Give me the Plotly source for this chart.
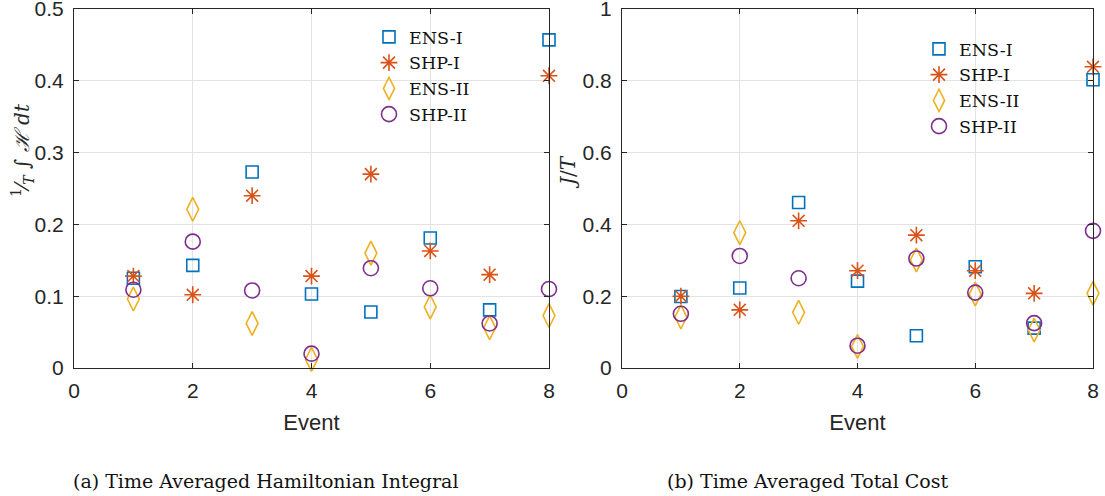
import plotly.graph_objects as go

events = [1, 2, 3, 4, 5, 6, 7, 8]

# (a) Time averaged Hamiltonian integral
ham_ens1 = [0.125, 0.143, 0.273, 0.103, 0.078, 0.181, 0.081, 0.457]
ham_shp1 = [0.128, 0.102, 0.240, 0.128, 0.270, 0.163, 0.130, 0.407]
ham_ens2 = [0.096, 0.221, 0.062, 0.012, 0.160, 0.085, 0.056, 0.073]
ham_shp2 = [0.109, 0.176, 0.108, 0.020, 0.139, 0.111, 0.062, 0.110]

# (b) Time averaged total cost
cost_ens1 = [0.199, 0.223, 0.461, 0.242, 0.090, 0.282, 0.111, 0.803]
cost_shp1 = [0.200, 0.162, 0.410, 0.271, 0.370, 0.271, 0.208, 0.839]
cost_ens2 = [0.142, 0.377, 0.155, 0.060, 0.301, 0.206, 0.106, 0.208]
cost_shp2 = [0.151, 0.312, 0.250, 0.062, 0.305, 0.210, 0.125, 0.382]

series_names = ["ENS-I", "SHP-I", "ENS-II", "SHP-II"]
colors = ["#0072BD", "#D95319", "#EDB120", "#7E2F8E"]
symbols = ["square-open", "asterisk-open", "diamond-tall-open", "circle-open"]
sizes = [12, 14, 17, 15]

x_ticks = [0, 2, 4, 6, 8]
y_ticks_a = [0, 0.1, 0.2, 0.3, 0.4, 0.5]
y_ticks_b = [0, 0.2, 0.4, 0.6, 0.8, 1]
y_labels_a = ["0", "0.1", "0.2", "0.3", "0.4", "0.5"]
y_labels_b = ["0", "0.2", "0.4", "0.6", "0.8", "1"]

fig = go.Figure()

left = [ham_ens1, ham_shp1, ham_ens2, ham_shp2]
right = [cost_ens1, cost_shp1, cost_ens2, cost_shp2]

for i, name in enumerate(series_names):
    fig.add_trace(go.Scatter(
        x=events, y=left[i], mode="markers", name=name,
        marker=dict(symbol=symbols[i], size=sizes[i], color=colors[i],
                    line=dict(width=1.6, color=colors[i])),
        xaxis="x", yaxis="y", legend="legend", cliponaxis=False))
for i, name in enumerate(series_names):
    fig.add_trace(go.Scatter(
        x=events, y=right[i], mode="markers", name=name,
        marker=dict(symbol=symbols[i], size=sizes[i], color=colors[i],
                    line=dict(width=1.6, color=colors[i])),
        xaxis="x2", yaxis="y2", legend="legend2", cliponaxis=False))

W, H = 1105, 496
axis_color = "#262626"
grid_color = "#e3e3e3"
tick_font = dict(family="Liberation Sans", size=21, color=axis_color)

def xa(domain, anchor):
    return dict(domain=domain, anchor=anchor, range=[0, 8], tickvals=x_ticks,
                showgrid=True, gridcolor=grid_color, zeroline=False,
                showline=True, linecolor=axis_color, linewidth=1, mirror="ticks",
                ticks="inside", ticklen=5, tickcolor=axis_color, tickfont=tick_font,
                ticklabelstandoff=4, ticklabeloverflow="allow", automargin=False,
                title=dict(text="Event", font=dict(family="Liberation Sans", size=22, color=axis_color), standoff=13))

def ya(domain, anchor, rng, vals, labels):
    return dict(domain=domain, anchor=anchor, range=rng, tickvals=vals, ticktext=labels,
                showgrid=True, gridcolor=grid_color, zeroline=False,
                showline=True, linecolor=axis_color, linewidth=1, mirror="ticks",
                ticks="inside", ticklen=5, tickcolor=axis_color, tickfont=tick_font,
                ticklabelstandoff=5, ticklabeloverflow="allow", automargin=False)

yd = [(H - 368) / H, (H - 9) / H]
legend_font = dict(family="DejaVu Serif", size=17.5, color="#111111")
fig.update_layout(
    width=W, height=H, autosize=False,
    margin=dict(l=0, r=0, t=0, b=0, autoexpand=False),
    paper_bgcolor="white", plot_bgcolor="white",
    xaxis=xa([74 / W, 549 / W], "y"),
    yaxis=ya(yd, "x", [0, 0.5], y_ticks_a, y_labels_a),
    xaxis2=xa([622 / W, 1093 / W], "y2"),
    yaxis2=ya(yd, "x2", [0, 1], y_ticks_b, y_labels_b),
    legend=dict(x=369 / W, y=1 - 19 / H, xanchor="left", yanchor="top",
                bgcolor="rgba(0,0,0,0)", borderwidth=0, tracegroupgap=0,
                font=legend_font),
    legend2=dict(x=919 / W, y=1 - 31 / H, xanchor="left", yanchor="top",
                 bgcolor="rgba(0,0,0,0)", borderwidth=0, tracegroupgap=0,
                 font=legend_font),
    annotations=[
        dict(text="<sup>1</sup>&#8260;<sub><i>T</i></sub> ∫ <i>ℋ</i> <i>dt</i>",
             x=22 / W, y=1 - 150 / H, xref="paper", yref="paper",
             xanchor="center", yanchor="middle",
             textangle=-90, showarrow=False,
             font=dict(family="DejaVu Serif", size=20, color=axis_color)),
        dict(text="<i>J</i>/<i>T</i>",
             x=568 / W, y=1 - 172 / H, xref="paper", yref="paper",
             xanchor="center", yanchor="middle",
             textangle=-90, showarrow=False,
             font=dict(family="DejaVu Serif", size=20, color=axis_color)),
        dict(text="(a) Time Averaged Hamiltonian Integral",
             x=266 / W, y=1 - 481 / H, xref="paper", yref="paper",
             xanchor="center", yanchor="middle", showarrow=False,
             font=dict(family="DejaVu Serif", size=19, color="#111111")),
        dict(text="(b) Time Averaged Total Cost",
             x=807 / W, y=1 - 481 / H, xref="paper", yref="paper",
             xanchor="center", yanchor="middle", showarrow=False,
             font=dict(family="DejaVu Serif", size=19, color="#111111")),
    ],
)

fig.write_html("out.html")
